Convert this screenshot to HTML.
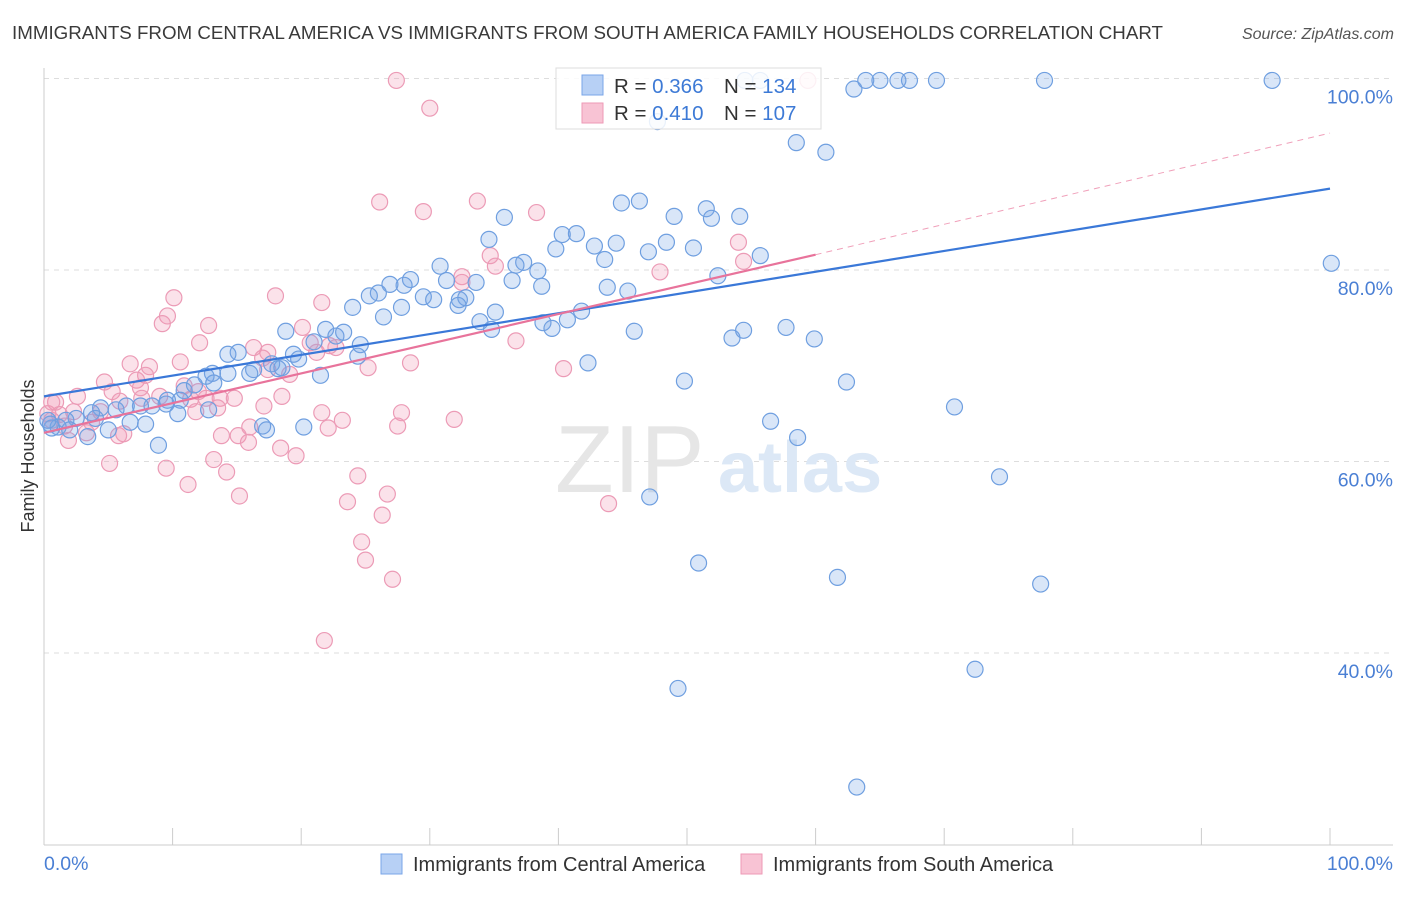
<!DOCTYPE html>
<html><head><meta charset="utf-8"><style>
body{margin:0;background:#fff;font-family:"Liberation Sans",sans-serif;}
svg text{font-family:"Liberation Sans",sans-serif;}
</style></head><body>
<svg id="chart" width="1406" height="892" viewBox="0 0 1406 892">
<text x="12" y="39" font-size="18" fill="#3a3a3a" textLength="1151" lengthAdjust="spacingAndGlyphs">IMMIGRANTS FROM CENTRAL AMERICA VS IMMIGRANTS FROM SOUTH AMERICA FAMILY HOUSEHOLDS CORRELATION CHART</text>
<text x="1394" y="39" font-size="16" fill="#555" font-style="italic" text-anchor="end">Source: ZipAtlas.com</text>
<g id="grid"></g>
<text x="555" y="492" font-size="96" fill="#e6e6e6" font-family="Liberation Serif,serif">ZIP</text>
<text x="718" y="492" font-size="72" fill="#dce8f6" font-weight="bold">atlas</text>
<g id="points"></g>
<g id="lines"></g>
<text transform="translate(34,456) rotate(-90)" font-size="18" fill="#333" text-anchor="middle">Family Households</text>
<text x="44" y="870" font-size="19.5" fill="#4a7fd4">0.0%</text>
<text x="1393" y="870" font-size="19.5" fill="#4a7fd4" text-anchor="end">100.0%</text>
<g>
<rect x="556" y="68" width="265" height="61" fill="#fff" fill-opacity="0.85" stroke="#ddd"/>
<rect x="582" y="75" width="21" height="20" fill="#b7d0f5" stroke="#7aa6e8"/>
<rect x="582" y="103" width="21" height="20" fill="#f8c3d4" stroke="#ee9ab6"/>
<text x="614" y="93" font-size="20.5" fill="#333">R = <tspan fill="#3d7ad6">0.366</tspan></text>
<text x="724" y="93" font-size="20.5" fill="#333">N = <tspan fill="#3d7ad6">134</tspan></text>
<text x="614" y="120" font-size="20.5" fill="#333">R = <tspan fill="#3d7ad6">0.410</tspan></text>
<text x="724" y="120" font-size="20.5" fill="#333">N = <tspan fill="#3d7ad6">107</tspan></text>
</g>
<g>
<rect x="381" y="854" width="21" height="20" fill="#b7d0f5" stroke="#7aa6e8"/>
<text x="413" y="871" font-size="20" fill="#333">Immigrants from Central America</text>
<rect x="741" y="854" width="21" height="20" fill="#f8c3d4" stroke="#ee9ab6"/>
<text x="773" y="871" font-size="20" fill="#333">Immigrants from South America</text>
</g>
</svg>
<script>
const yTicks=[40,60,80,100];
const yTickLabels=["40.0%","60.0%","80.0%","100.0%"];
const xTicks=[0,10,20,30,40,50,60,70,80,90,100];
const blueX=[95.5,77.8,69.4,67.3,66.4,65.0,63.9,62.98,55.7,54.5,58.5,60.8,47.7,44.9,46.3,51.5,54.1,51.9,49.0,35.8,34.6,40.3,41.4,39.8,42.8,44.5,43.6,48.4,50.5,47.0,55.7,100.1,52.4,45.4,43.8,37.3,36.7,38.4,38.7,36.4,30.8,33.6,31.3,28.5,28.0,26.9,26.0,25.3,24.0,27.8,26.4,29.5,30.3,32.3,32.8,32.2,35.1,33.9,34.8,38.8,39.5,40.7,41.8,45.9,53.5,54.4,57.7,59.9,42.3,49.8,62.4,70.8,56.5,58.6,74.3,47.1,50.9,61.7,77.5,72.4,49.3,63.2,21.9,22.7,23.3,21.0,24.4,19.4,19.8,18.8,17.7,18.2,16.3,16.0,15.1,14.3,14.3,13.1,12.6,13.2,11.7,10.9,10.6,10.4,9.6,9.5,8.4,7.5,6.4,5.6,4.4,3.7,3.4,5.0,6.7,7.9,8.9,2.5,1.7,1.1,0.6,0.5,0.3,2.0,4.0,17.0,17.3,20.2,21.5,12.8,24.6,18.5];
const blueY=[99.8,99.8,99.8,99.8,99.8,99.8,99.8,98.9,99.8,99.8,93.3,92.3,95.5,87.0,87.2,86.4,85.6,85.4,85.6,85.5,83.2,83.7,83.8,82.2,82.5,82.8,81.1,82.9,82.3,81.9,81.5,80.7,79.4,77.8,78.2,80.8,80.5,79.9,78.3,78.9,80.4,78.7,78.9,79.0,78.4,78.5,77.6,77.3,76.1,76.1,75.1,77.2,76.9,76.9,77.1,76.3,75.6,74.6,73.8,74.5,73.9,74.8,75.7,73.6,72.9,73.7,74.0,72.8,70.3,68.4,68.3,65.7,64.2,62.5,58.4,56.3,49.4,47.9,47.2,38.3,36.3,26.0,73.8,73.1,73.5,72.5,71.0,71.2,70.7,73.6,70.2,69.7,69.6,69.2,71.4,71.2,69.2,69.2,68.9,68.2,68.0,67.4,66.4,65.0,66.4,66.0,65.8,65.8,65.8,65.4,65.6,65.1,62.6,63.3,64.1,63.9,61.7,64.5,64.3,63.6,63.5,63.9,64.3,63.3,64.5,63.7,63.3,63.6,69.0,65.4,72.2,69.8];
const pinkX=[27.4,30.0,59.4,26.1,29.5,33.7,38.3,54.0,54.4,47.9,35.1,32.5,32.5,34.7,10.1,9.6,9.2,12.8,18.0,21.6,20.1,12.1,16.3,17.4,20.7,21.2,22.2,22.7,17.0,17.4,28.5,25.2,36.7,40.4,6.7,8.2,7.9,7.2,10.6,10.9,12.0,4.7,5.3,5.9,7.5,7.6,9.0,11.4,12.6,13.7,14.8,11.8,13.5,17.1,18.5,19.1,21.6,23.2,27.5,27.8,31.9,4.4,3.7,2.3,1.2,0.6,0.3,0.9,1.6,1.9,3.3,6.2,5.8,5.1,9.5,11.2,13.2,14.2,13.8,15.1,16.0,15.9,18.4,19.6,22.1,24.4,23.6,26.7,26.3,24.7,25.0,27.1,21.8,15.2,43.9,0.6,2.6];
const pinkY=[99.8,96.9,99.8,87.1,86.1,87.2,86.0,82.9,80.9,79.8,80.4,79.3,78.7,81.5,77.1,75.2,74.4,74.2,77.3,76.6,74.0,72.4,71.9,71.4,72.4,71.4,72.1,71.9,70.8,69.6,70.3,69.8,72.6,69.7,70.2,69.9,69.0,68.5,70.4,67.9,67.3,68.3,67.3,66.3,67.7,66.6,66.8,66.5,66.6,66.6,66.6,65.2,65.6,65.8,66.8,69.1,65.1,64.3,63.7,65.1,64.4,65.2,64.1,65.2,64.9,64.3,65.0,66.2,63.7,62.2,63.0,62.9,62.7,59.8,59.3,57.6,60.2,58.9,62.7,62.7,63.6,62.0,61.4,60.6,63.5,58.5,55.8,56.6,54.4,51.6,49.7,47.7,41.3,56.4,55.6,66.2,66.8];
const blueLine=[66.8,88.5];
const pinkLine=[63.0,81.6,94.3];
const pinkSolidEnd=60;

const NS="http://www.w3.org/2000/svg";
const X0=44,X1=1330;
const xs=v=>X0+(X1-X0)*v/100;
const ys=v=>1036-9.575*v;
function mk(tag,attrs,parent){const e=document.createElementNS(NS,tag);for(const k in attrs)e.setAttribute(k,attrs[k]);parent.appendChild(e);return e;}
const grid=document.getElementById('grid');
yTicks.forEach((t,i)=>{
  const l=mk('line',{x1:X0,x2:1393,y1:ys(t),y2:ys(t),stroke:'#ddd','stroke-dasharray':'5,5'},grid);
  
  
  const tx=mk('text',{x:1393,y:ys(t)+25,'font-size':19.5,fill:'#4a7fd4','text-anchor':'end'},grid);
  tx.textContent=yTickLabels[i];
  
  
});
const ax=mk('line',{x1:X0,x2:1393,y1:845,y2:845,stroke:'#ccc'},grid);


const ay=mk('line',{x1:X0,x2:X0,y1:68,y2:845,stroke:'#ccc'},grid);


xTicks.forEach(t=>{
  const l=mk('line',{x1:xs(t),x2:xs(t),y1:828,y2:845,stroke:'#ccc'},grid);
  
  
});
const pts=document.getElementById('points');
pinkX.forEach((v,i)=>{
  const c=mk('circle',{cx:xs(v),cy:ys(pinkY[i]),r:8,fill:'rgba(242,150,180,0.28)',stroke:'#ec9bb6','stroke-width':1.2},pts);
  
  
});
blueX.forEach((v,i)=>{
  const c=mk('circle',{cx:xs(v),cy:ys(blueY[i]),r:8,fill:'rgba(120,165,230,0.28)',stroke:'#6f9fe0','stroke-width':1.2},pts);
  
  
});
const lines=document.getElementById('lines');
const bl=mk('line',{x1:xs(0),y1:ys(blueLine[0]),x2:xs(100),y2:ys(blueLine[1]),stroke:'#3a78d8','stroke-width':2.2},lines);


const pl=mk('line',{x1:xs(0),y1:ys(pinkLine[0]),x2:xs(pinkSolidEnd),y2:ys(pinkLine[1]),stroke:'#e8739b','stroke-width':2.2},lines);


const pd=mk('line',{x1:xs(pinkSolidEnd),y1:ys(pinkLine[1]),x2:xs(100),y2:ys(pinkLine[2]),stroke:'#f0a0ba','stroke-width':1,'stroke-dasharray':'6,5'},lines);


</script>
</body></html>
